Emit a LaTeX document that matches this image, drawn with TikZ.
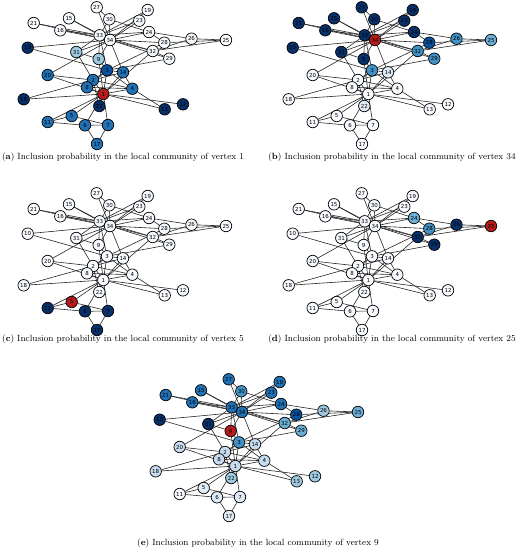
\documentclass[tikz,border=0pt]{standalone}
\usepackage{fontspec}
\newfontfamily\vxfont{DejaVu Sans}
\usetikzlibrary{backgrounds}

\definecolor{vwhite}{HTML}{F7FBFF}
\definecolor{vpale}{HTML}{DEEBF7}
\definecolor{vlight}{HTML}{C6DBEF}
\definecolor{vlb}{HTML}{9ECAE1}
\definecolor{vm1}{HTML}{6BAED6}
\definecolor{vm2}{HTML}{4292C6}
\definecolor{vm3}{HTML}{2171B5}
\definecolor{vdark}{HTML}{08519C}
\definecolor{vnavy}{HTML}{08306B}
\definecolor{vseed}{HTML}{B71C1C}

\def\clubpos{1/103.3/94, 2/93/80, 3/107/70.3, 4/132.3/88.7, 5/71.7/116,
  6/85/125.3, 7/108/125, 8/87/87.3, 9/98.7/59, 10/27.7/47.7, 11/47.7/122,
  12/183/104.3, 13/164.7/109.3, 14/123/72.3, 15/69/18.3, 16/60.3/30.3,
  17/97/144, 18/23.7/99.3, 19/147.7/10, 20/47.7/75, 21/33.7/23, 22/99.3/106,
  23/139.3/20.7, 24/149/32, 25/226/40, 26/191.5/38.7, 27/96.7/7.3,
  28/164.3/42.7, 29/169.3/58.7, 30/109.3/19.3, 31/76.3/52, 32/152.7/51,
  33/99.7/35.3, 34/110/40}

\def\clubedges{1/2,1/3,1/4,1/5,1/6,1/7,1/8,1/9,1/11,1/12,1/13,1/14,1/18,
  1/20,1/22,1/32,2/3,2/4,2/8,2/14,2/18,2/20,2/22,2/31,3/4,3/8,3/9,3/10,
  3/14,3/28,3/29,3/33,4/8,4/13,4/14,5/7,5/11,6/7,6/11,6/17,7/17,9/31,9/33,
  9/34,10/34,14/34,15/33,15/34,16/33,16/34,19/33,19/34,20/34,21/33,21/34,
  23/33,23/34,24/26,24/28,24/30,24/33,24/34,25/26,25/28,25/32,26/32,27/30,
  27/34,28/34,29/32,29/34,30/33,30/34,31/33,31/34,32/33,32/34,33/34}

\newcommand{\clubpanel}[4]{%
  \foreach \vid in {1,...,34}{\expandafter\gdef\csname vc\vid\endcsname{vwhite}}%
  \foreach \vid/\vc in {#4}{\expandafter\xdef\csname vc\vid\endcsname{\vc}}%
  \foreach \vid/\px/\py in \clubpos{%
    \edef\fc{\csname vc\vid\endcsname}%
    \node[vx, fill=\fc] (#1\vid) at (\px+#2, \py+#3) {\vid};
  }%
  \begin{scope}[on background layer]
    \foreach \s/\t in \clubedges{\draw[edge] (#1\s) -- (#1\t);}
  \end{scope}%
}

\begin{document}
\begin{tikzpicture}[
        x=1pt, y=-1pt,
        vx/.style={
            circle,
            draw=black,
            line width=0.7pt,
            minimum size=11.5pt,
            inner sep=0pt,
            font=\vxfont\fontsize{5.5}{6}\selectfont
        },
        edge/.style={draw=black!85, line width=0.6pt},
        subcap/.style={font=\fontsize{9}{10}\selectfont, inner sep=0pt}
    ]
    \useasboundingbox (0,0) rectangle (517,550);

    \clubpanel{pa}{0}{0}{1/vseed, 2/vm3, 3/vdark, 4/vm3, 5/vm3, 6/vm3, 7/vm3,
        8/vm3, 9/vlb, 10/vnavy, 11/vm3, 12/vnavy, 13/vnavy, 14/vm3, 17/vm3,
        18/vnavy, 20/vm3, 22/vnavy, 31/vlb}
    \clubpanel{pb}{265}{0}{34/vseed, 9/vnavy, 10/vnavy, 15/vnavy, 16/vnavy,
        19/vnavy, 21/vnavy, 23/vnavy, 24/vnavy, 27/vnavy, 30/vnavy, 31/vnavy,
        33/vnavy, 28/vdark, 32/vm2, 29/vm2, 3/vm2, 26/vm2, 25/vm1, 14/vpale,
        22/vpale}
    \clubpanel{pc}{0}{186}{5/vseed, 6/vnavy, 7/vnavy, 11/vnavy, 17/vnavy}
    \clubpanel{pd}{265}{186}{25/vseed, 24/vm1, 28/vm2, 32/vnavy, 29/vnavy,
        26/vnavy}
    \clubpanel{pe}{132}{372}{9/vseed, 10/vnavy, 31/vnavy, 33/vm3, 34/vm3,
        21/vm3, 16/vm3, 28/vdark, 15/vm3, 27/vm3, 24/vm3, 19/vm3, 30/vm2,
        23/vm3, 3/vm2, 32/vm1, 29/vm1, 26/vlb, 25/vm1, 22/vlb, 13/vlb, 12/vlb,
        14/vlight, 20/vlight, 2/vlight, 8/vlight, 4/vlight, 1/vlight,
        18/vlight, 17/vpale, 5/vpale, 6/vpale, 7/vpale}

    \node[subcap] (capa) at (123,157) {(\textbf{a}) Inclusion probability in the local community of vertex 1};
    \node[subcap] (capb) at (392,157) {(\textbf{b}) Inclusion probability in the local community of vertex 34};
    \node[subcap] (capc) at (123,339) {(\textbf{c}) Inclusion probability in the local community of vertex 5};
    \node[subcap] (capd) at (392,339) {(\textbf{d}) Inclusion probability in the local community of vertex 25};
    \node[subcap] (cape) at (258,543) {(\textbf{e}) Inclusion probability in the local community of vertex 9};
\end{tikzpicture}
\end{document}
